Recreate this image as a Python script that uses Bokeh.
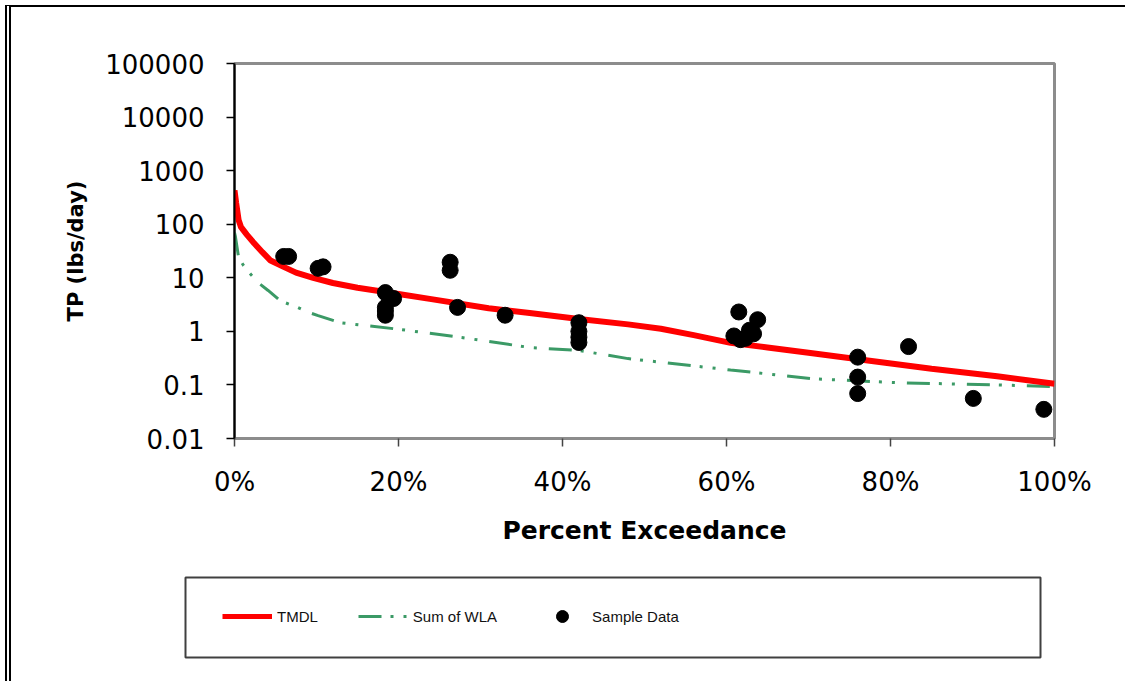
from bokeh.plotting import figure
from bokeh.layouts import column
from bokeh.models import (FixedTicker, CustomJSTickFormatter, PrintfTickFormatter,
                          Legend, LegendItem, Range1d, InlineStyleSheet)
from bokeh.embed import file_html
from bokeh.resources import INLINE

# ---- data (percent exceedance, TP lbs/day) ----
tmdl_pct = [0, 0.2, 0.5, 0.8, 1.5, 2.4, 3.4, 4.4, 6, 7.5, 9.6, 12, 15, 20, 24, 31, 36, 42,
            48, 52, 56, 60.5, 65, 70, 77, 85, 93, 100]
tmdl_val = [430, 250, 120, 88, 64, 44, 30, 21, 16, 12.5, 10, 8, 6.5, 5.0, 4.0, 2.7, 2.2, 1.7,
            1.35, 1.12, 0.85, 0.61, 0.5, 0.4, 0.29, 0.2, 0.145, 0.105]

wla_pct = [0, 0.1, 0.5, 1.1, 2, 2.9, 4.1, 5.6, 7.7, 8.9, 10.2, 12.9, 19.9, 27.9, 36, 42, 48,
           60.5, 70.6, 81, 93, 100]
wla_val = [70, 60, 24, 17, 11.5, 8.1, 5.8, 3.7, 2.8, 2.3, 1.97, 1.45, 1.1, 0.76, 0.5, 0.44, 0.31,
           0.19, 0.13, 0.11, 0.10, 0.093]

sample_pct = [6.0, 6.6, 10.2, 10.8, 18.4, 19.4, 18.4, 18.4, 18.4, 26.3, 26.3, 27.2, 33.0,
              42.0, 42.0, 42.0, 42.0, 61.5, 63.8, 62.8, 63.3, 60.9, 62.3, 61.7,
              76.0, 76.0, 76.0, 82.2, 90.1, 98.7]
sample_val = [25, 25, 15, 16, 5.3, 4.1, 2.8, 2.4, 2.0, 19.5, 13.8, 2.8, 2.0,
              1.45, 1.0, 0.78, 0.62, 2.3, 1.65, 1.05, 0.9, 0.82, 0.74, 0.7,
              0.33, 0.14, 0.069, 0.52, 0.056, 0.035]

x_ticks = [0, 20, 40, 60, 80, 100]
y_ticks = [0.01, 0.1, 1, 10, 100, 1000, 10000, 100000]
legend_labels = ["TMDL", "Sum of WLA", "Sample Data"]

RED = "#ff0000"
GREEN = "#3b9a66"
DASH = "23 9 3 10 3 12"

W = 1125
H_MAIN = 560
H_LEG = 121

p = figure(width=W, height=H_MAIN, y_axis_type="log",
           x_range=Range1d(0, 100), y_range=Range1d(0.01, 100000),
           output_backend="svg", toolbar_location=None,
           min_border_left=234, min_border_right=71, min_border_top=63, min_border_bottom=122,
           background_fill_color="white", border_fill_color="white")
p.frame_align = False

p.xgrid.visible = False
p.ygrid.visible = False
p.outline_line_color = "#8c8c8c"
p.outline_line_width = 3

# y axis
ya = p.yaxis[0]
ya.ticker = FixedTicker(ticks=y_ticks)
ya.formatter = CustomJSTickFormatter(code="return tick >= 1 ? tick.toFixed(0) : String(tick);")
ya.minor_tick_line_color = None
ya.major_tick_out = 8
ya.major_tick_in = 0
ya.axis_line_color = "black"
ya.axis_line_width = 2
ya.major_tick_line_color = "black"
ya.major_tick_line_width = 1.5
ya.major_label_text_font = "DejaVu Sans"
ya.major_label_text_font_size = "26px"
ya.major_label_text_color = "black"
ya.major_label_standoff = 22
ya.axis_label = "TP (lbs/day)"
ya.axis_label_text_font = "DejaVu Sans"
ya.axis_label_text_font_style = "bold"
ya.axis_label_text_font_size = "21px"
ya.axis_label_text_color = "black"
ya.axis_label_standoff = 14

# x axis
xa = p.xaxis[0]
xa.ticker = FixedTicker(ticks=x_ticks)
xa.formatter = PrintfTickFormatter(format="%d%%")
xa.minor_tick_line_color = None
xa.major_tick_out = 8
xa.major_tick_in = 0
xa.axis_line_color = "#8c8c8c"
xa.axis_line_width = 2
xa.major_tick_line_color = "#444444"
xa.major_tick_line_width = 1.5
xa.major_label_text_font = "DejaVu Sans"
xa.major_label_text_font_size = "26px"
xa.major_label_text_color = "black"
xa.major_label_standoff = 20
xa.axis_label = "Percent Exceedance"
xa.axis_label_text_font = "DejaVu Sans"
xa.axis_label_text_font_style = "bold"
xa.axis_label_text_font_size = "25px"
xa.axis_label_text_color = "black"
xa.axis_label_standoff = 16

p.line(wla_pct, wla_val, line_color=GREEN, line_width=3, line_dash=DASH)
p.line(tmdl_pct, tmdl_val, line_color=RED, line_width=6)
p.scatter(sample_pct, sample_val, size=16, fill_color="black", line_color="black")

# ---- legend panel (its frame outline is the legend box) ----
# ranges lie away from all data, so the series only serve as legend swatches here
p_leg = figure(width=W, height=H_LEG, x_range=Range1d(-2, -1), y_range=Range1d(-2, -1),
               x_axis_type=None, y_axis_type=None,
               output_backend="svg", toolbar_location=None,
               min_border_left=185, min_border_right=85, min_border_top=17, min_border_bottom=24,
               background_fill_color="white", border_fill_color="white")
p_leg.frame_align = False
p_leg.outline_line_color = "#404040"
p_leg.outline_line_width = 2
p_leg.grid.visible = False

lg_tmdl = p_leg.line(tmdl_pct, tmdl_val, line_color=RED, line_width=5)
lg_wla = p_leg.line(wla_pct, wla_val, line_color=GREEN, line_width=3, line_dash=DASH)
lg_pts = p_leg.scatter(sample_pct, sample_val, size=16, fill_color="black", line_color="black")

legend = Legend(items=[LegendItem(label=legend_labels[0], renderers=[lg_tmdl]),
                       LegendItem(label=legend_labels[1], renderers=[lg_wla]),
                       LegendItem(label=legend_labels[2], renderers=[lg_pts])],
                orientation="horizontal", location=(37, 26), margin=0,
                glyph_width=50, glyph_height=30, label_standoff=5, spacing=40, padding=0,
                border_line_alpha=0, background_fill_alpha=0,
                label_text_font="Liberation Sans", label_text_font_size="15px",
                label_text_color="#111111")
p_leg.add_layout(legend)

# outer page frame: top line and double left line (kept inside the layout box)
frame_css = InlineStyleSheet(css="""
:host { position: relative; overflow: hidden; }
:host::before {
  content: "";
  position: absolute;
  left: 5px; top: 5px; right: 0px; bottom: 0px;
  border-top: 2px solid black;
  border-left: 6px double black;
  border-right: none;
  border-bottom: none;
  pointer-events: none;
  z-index: 100;
}
""")

layout = column(p, p_leg, spacing=0, stylesheets=[frame_css])

open("out.html", "w").write(file_html(layout, INLINE))
